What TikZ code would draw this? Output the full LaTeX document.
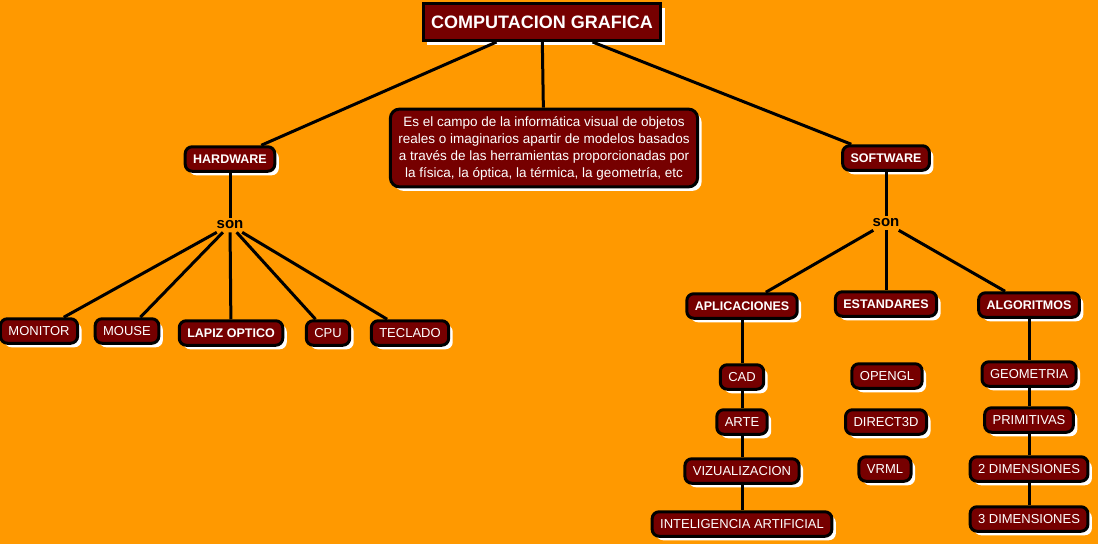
\documentclass[tikz,border=0pt]{standalone}
\usepackage{fontspec}
\setmainfont{Liberation Sans}
\usetikzlibrary{shadows}
\definecolor{fondo}{HTML}{FF9900}
\definecolor{caja}{HTML}{760000}

\begin{document}
\begin{tikzpicture}[x=1pt,y=-1pt,
	concepto/.style={draw=black, line width=3pt, fill=caja, text=white, rounded corners=7pt,
		inner xsep=8pt, inner ysep=7.5pt, text height=9.5pt, text depth=0pt, font=\fontsize{13}{15}\selectfont,
		drop shadow={shadow xshift=4pt, shadow yshift=-4pt, fill=white, opacity=1}},
	grueso/.style={concepto, font=\fontsize{12.5}{15}\selectfont\bfseries},
	enlace/.style={font=\fontsize{15}{17}\selectfont\bfseries, inner sep=3pt},
	linea/.style={line width=3pt}]
	\fill[fondo] (0,0) rectangle (1098,544);
	\useasboundingbox (0,0) rectangle (1098,544);

	% raiz
	\node[grueso, rounded corners=0pt, minimum width=236pt, minimum height=37pt, text height=13pt, text depth=0pt,
		font=\fontsize{18}{20}\selectfont\bfseries] (cg) at (542,22) {COMPUTACION GRAFICA};
	\node[concepto, rounded corners=9pt, align=center, text height=, text depth=, inner ysep=7pt,
		font=\fontsize{13.5}{17}\selectfont] (def) at (544,148)
		{Es el campo de la informática visual de objetos\\reales o imaginarios apartir de modelos basados\\a través de las herramientas proporcionadas por\\la física, la óptica, la térmica, la geometría, etc};

	% hardware
	\node[grueso] (hw) at (230,159) {HARDWARE};
	\node[enlace] (sonhw) at (230,225) {son};
	\node[concepto] (monitor) at (39,331) {MONITOR};
	\node[concepto] (mouse) at (127,331) {MOUSE};
	\node[grueso] (lapiz) at (231,333) {LAPIZ OPTICO};
	\node[concepto] (cpu) at (328,333) {CPU};
	\node[concepto] (teclado) at (410,333) {TECLADO};

	% software
	\node[grueso] (sw) at (886,158) {SOFTWARE};
	\node[enlace] (sonsw) at (886,223) {son};
	\node[grueso] (apl) at (742,306) {APLICACIONES};
	\node[grueso] (est) at (886,304) {ESTANDARES};
	\node[grueso] (alg) at (1029,305) {ALGORITMOS};

	\node[concepto] (cad) at (742,377) {CAD};
	\node[concepto] (arte) at (742,422) {ARTE};
	\node[concepto] (viz) at (742,471) {VIZUALIZACION};
	\node[concepto] (ia) at (742,524) {INTELIGENCIA ARTIFICIAL};

	\node[concepto] (opengl) at (887,376) {OPENGL};
	\node[concepto] (d3d) at (886,422) {DIRECT3D};
	\node[concepto] (vrml) at (885,469) {VRML};

	\node[concepto] (geo) at (1029,374) {GEOMETRIA};
	\node[concepto] (prim) at (1029,420) {PRIMITIVAS};
	\node[concepto] (dos) at (1029,469) {2 DIMENSIONES};
	\node[concepto] (tres) at (1029,519) {3 DIMENSIONES};

	% enlaces
	\draw[linea] (cg) -- (hw);
	\draw[linea] (cg) -- (def);
	\draw[linea] (cg) -- (sw);
	\draw[linea] (hw) -- (sonhw);
	\foreach \n in {monitor,mouse,lapiz,cpu,teclado}
		\draw[linea] (sonhw) -- (\n);
	\draw[linea] (sw) -- (sonsw);
	\foreach \n in {apl,est,alg}
		\draw[linea] (sonsw) -- (\n);
	\draw[linea] (apl) -- (cad) -- (arte) -- (viz) -- (ia);
	\draw[linea] (alg) -- (geo) -- (prim) -- (dos) -- (tres);
\end{tikzpicture}
\end{document}
